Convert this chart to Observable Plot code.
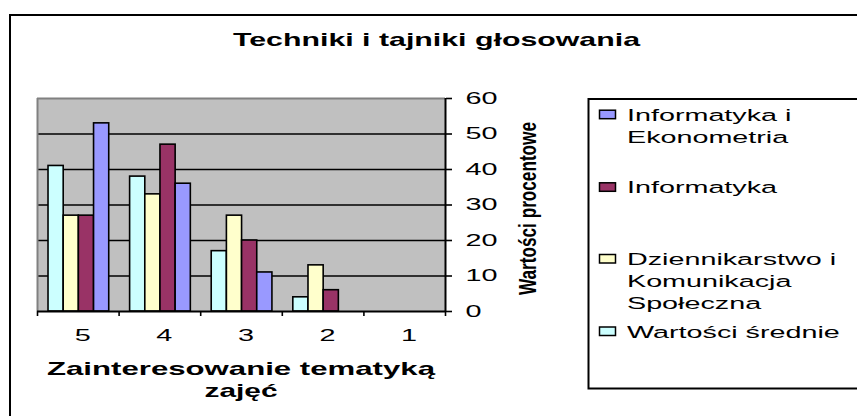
<!DOCTYPE html>
<html>
<head>
<meta charset="utf-8">
<script src="https://cdn.jsdelivr.net/npm/d3@7"></script>
<script src="https://cdn.jsdelivr.net/npm/@observablehq/plot@0.6"></script>
<style>
  html, body { margin: 0; padding: 0; background: #fff; overflow: hidden; }
  #chart { width: 857px; height: 416px; }
</style>
</head>
<body>
<div id="chart"></div>
<script>
// ---- data ----
const categories = ["5", "4", "3", "2", "1"];
const yTicks = [0, 10, 20, 30, 40, 50, 60];
const seriesNames = ["Wartości średnie", "Dziennikarstwo i Komunikacja Społeczna", "Informatyka", "Informatyka i Ekonometria"];
const wartosciSrednie = [41, 38, 17, 4, 0];
const dziennikarstwo = [27, 33, 27, 13, 0];
const informatyka = [27, 47, 20, 6, 0];
const informatykaEkonometria = [53, 36, 11, 0, 0];
const seriesColors = ["#ccffff", "#ffffcc", "#993366", "#9999ff"];
const legendOrder = [3, 2, 1, 0];
const legendLines = [["Informatyka i", "Ekonometria"], ["Informatyka"], ["Dziennikarstwo i", "Komunikacja", "Społeczna"], ["Wartości średnie"]];
const chartTitle = "Techniki i tajniki głosowania";
const xTitleLines = ["Zainteresowanie tematyką", "zajęć"];
const yTitle = "Wartości procentowe";

// ---- build table ----
const seriesValues = [wartosciSrednie, dziennikarstwo, informatyka, informatykaEkonometria];
const groupOffset = 0.135, barW = 0.186;
const rows = [];
categories.forEach((c, ci) => {
  seriesValues.forEach((vals, si) => {
    rows.push({cat: c, ci, si, series: seriesNames[si], value: vals[ci]});
  });
});

const FONT = "'Liberation Sans', Arial, sans-serif";

const svg = Plot.plot({
  width: 857,
  height: 416,
  marginLeft: 37,
  marginRight: 412,
  marginTop: 98,
  marginBottom: 105,
  style: {fontFamily: FONT, background: "#fff"},
  x: {type: "linear", domain: [0, categories.length], axis: null},
  y: {domain: [0, 60], axis: null},
  color: {domain: seriesNames, range: seriesColors},
  marks: [
    Plot.frame({fill: "#c0c0c0", stroke: null}),
    Plot.gridY(yTicks.filter(t => t > 0 && t < 60), {stroke: "#000", strokeOpacity: 1, strokeWidth: 1.4}),
    Plot.ruleY([60], {stroke: "#808080", strokeWidth: 2}),
    Plot.ruleX([0], {stroke: "#808080", strokeWidth: 2}),
    Plot.rect(rows.filter(d => d.value > 0), {
      x1: d => d.ci + groupOffset + d.si * barW,
      x2: d => d.ci + groupOffset + (d.si + 1) * barW,
      y1: 0,
      y2: "value",
      fill: "series",
      stroke: "#000",
      strokeWidth: 1.6
    }),
    Plot.ruleX([categories.length], {stroke: "#000", strokeWidth: 2}),
    Plot.ruleY([0], {stroke: "#000", strokeWidth: 2}),
    Plot.axisY(yTicks, {anchor: "right", tickSize: 6, tickPadding: 14, fontSize: 16, label: null, strokeWidth: 1.6, color: "#000"}),
    Plot.axisX(d3.range(0, categories.length + 1), {anchor: "bottom", tickSize: 5, tickFormat: () => "", label: null, strokeWidth: 1.6}),
    ...categories.map((c, i) =>
      Plot.axisX([i + 0.5], {anchor: "bottom", tickSize: 0, tickPadding: 18, fontSize: 16, tickFormat: () => c, label: null, color: "#000"}))
  ]
});

document.getElementById("chart").appendChild(svg);
const s = d3.select(svg);
s.attr("text-anchor", null);

// stretch axis tick labels horizontally (reference text is widened), per label group about its own anchor
function stretchGroup(g, sx, anchor) {
  const bb = g.getBBox();
  if (!bb || !bb.width) return;
  const ax = anchor === "start" ? bb.x : bb.x + bb.width / 2;
  const t = g.getAttribute("transform") || "";
  g.setAttribute("transform", `${t} translate(${ax},0) scale(${sx},1) translate(${-ax},0)`);
}
s.selectAll('g[aria-label="y-axis tick label"]').each(function() { stretchGroup(this, 1.8, "start"); });
s.selectAll('g[aria-label="x-axis tick label"]').each(function() { stretchGroup(this, 1.8, "middle"); });

// outer chart border
s.insert("rect", ":first-child")
  .attr("x", 10).attr("y", 15).attr("width", 860).attr("height", 420)
  .attr("fill", "#fff").attr("stroke", "#000").attr("stroke-width", 2);

// title
s.append("text")
  .attr("x", 436.5).attr("y", 45.5)
  .attr("text-anchor", "middle")
  .attr("font-family", FONT).attr("font-weight", "bold").attr("font-size", 19)
  .attr("textLength", 407).attr("lengthAdjust", "spacingAndGlyphs")
  .text(chartTitle);

// x axis title
const xTitleLen = [388, 73];
const xTitleBase = [375, 397];
xTitleLines.forEach((line, i) => {
  s.append("text")
    .attr("x", 241).attr("y", xTitleBase[i])
    .attr("text-anchor", "middle")
    .attr("font-family", FONT).attr("font-weight", "bold").attr("font-size", 18.5)
    .attr("textLength", xTitleLen[i]).attr("lengthAdjust", "spacingAndGlyphs")
    .text(line);
});

// y axis title (rotated, condensed)
s.append("text")
  .attr("transform", "translate(535.5,208.5) rotate(-90)")
  .attr("text-anchor", "middle")
  .attr("font-family", FONT).attr("font-weight", "bold").attr("font-size", 24)
  .attr("textLength", 173).attr("lengthAdjust", "spacingAndGlyphs")
  .text(yTitle);

// legend
s.append("rect")
  .attr("x", 588.5).attr("y", 99).attr("width", 300).attr("height", 289.5)
  .attr("fill", "#fff").attr("stroke", "#000").attr("stroke-width", 2);
const legendBases = [[120.7, 143.3], [193.3], [265, 286.8, 308.5], [337.5]];
legendOrder.forEach((si, k) => {
  const b = legendBases[k];
  s.append("rect")
    .attr("x", 599.5).attr("y", b[0] - 10.5).attr("width", 16).attr("height", 8.5)
    .attr("fill", seriesColors[si]).attr("stroke", "#000").attr("stroke-width", 1.5);
  legendLines[k].forEach((line, j) => {
    s.append("text")
      .attr("transform", `translate(627,${b[j]}) scale(1.69,1)`)
      .attr("text-anchor", "start")
      .attr("font-family", FONT).attr("font-size", 17)
      .attr("fill", "#000")
      .text(line);
  });
});
</script>
</body>
</html>
